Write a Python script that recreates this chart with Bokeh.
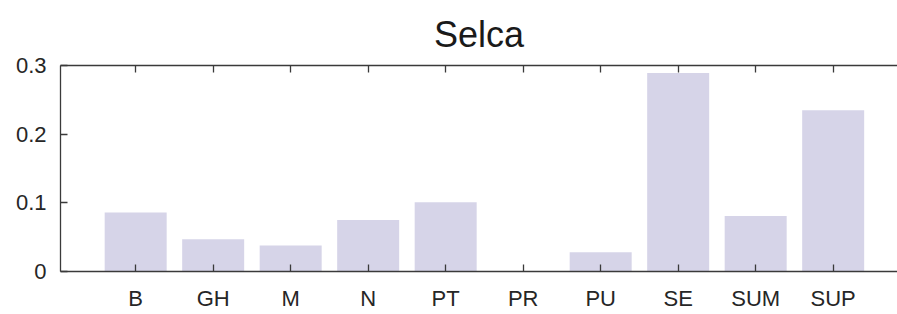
from bokeh.plotting import figure
from bokeh.models import Range1d, FixedTicker, LinearAxis, NumeralTickFormatter
from bokeh.embed import file_html
from bokeh.resources import INLINE

title_text = "Selca"
categories = ["B", "GH", "M", "N", "PT", "PR", "PU", "SE", "SUM", "SUP"]
values = [0.086, 0.047, 0.038, 0.075, 0.101, 0.0, 0.028, 0.289, 0.081, 0.235]
y_ticks = [0, 0.1, 0.2, 0.3]

positions = list(range(1, len(categories) + 1))

FONT = "Liberation Sans"
TXT = "#262626"
AX = "#3a3a3a"

p = figure(width=897, height=314, output_backend="svg", toolbar_location=None,
           x_range=Range1d(0.03, 10.83), y_range=Range1d(0, 0.3),
           min_border_left=60, min_border_bottom=43, min_border_top=65, min_border_right=0,
           x_axis_location=None, y_axis_location=None)
p.outline_line_color = None
p.grid.visible = False
p.background_fill_color = "white"
p.border_fill_color = "white"

p.vbar(x=positions, top=values, width=0.8, bottom=0,
       fill_color="#d6d4e8", line_color=None)

def style(ax, labels=True):
    ax.axis_line_color = AX
    ax.axis_line_width = 1.3
    ax.major_tick_line_color = AX
    ax.major_tick_line_width = 1.3
    ax.major_tick_in = 7
    ax.major_tick_out = 0
    ax.minor_tick_line_color = None
    ax.major_label_text_font = FONT
    ax.major_label_text_color = TXT
    ax.major_label_text_font_size = "22px" if labels else "0px"
    ax.major_label_standoff = 14 if labels else 0

xb = LinearAxis(ticker=FixedTicker(ticks=positions),
                major_label_overrides={pos: c for pos, c in zip(positions, categories)})
style(xb)
p.add_layout(xb, "below")

xt = LinearAxis(ticker=FixedTicker(ticks=positions),
                major_label_overrides={pos: "" for pos in positions})
style(xt, labels=False)
p.add_layout(xt, "above")

yl = LinearAxis(ticker=FixedTicker(ticks=y_ticks), formatter=NumeralTickFormatter(format="0.[0]"))
style(yl)
yl.major_label_standoff = 14
p.add_layout(yl, "left")

p.title.text = title_text
p.title.align = "center"
p.title.text_font = FONT
p.title.text_font_size = "36px"
p.title.text_font_style = "normal"
p.title.text_color = "#1a1a1a"
p.title.standoff = 22

open("out.html", "w").write(file_html(p, INLINE))
